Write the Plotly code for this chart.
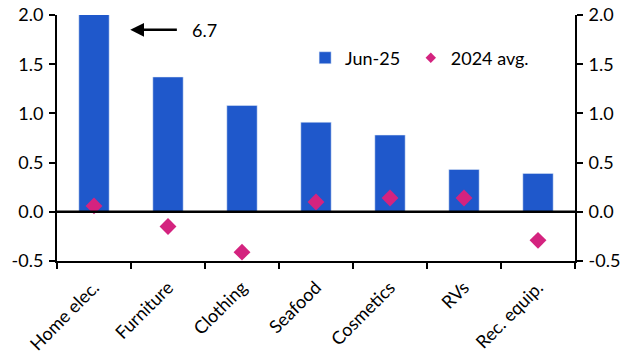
import plotly.graph_objects as go

categories = ["Home elec.", "Furniture", "Clothing", "Seafood", "Cosmetics", "RVs", "Rec. equip."]
jun25 = [6.7, 1.37, 1.08, 0.91, 0.78, 0.43, 0.39]
avg2024 = [0.06, -0.15, -0.41, 0.10, 0.14, 0.14, -0.29]
y_ticks = [-0.5, 0.0, 0.5, 1.0, 1.5, 2.0]
y_range = [-0.5, 2.0]

BLUE = "#1F58CB"
PINK = "#D4237F"
FONT = "Lato"
FS = 18

fig = go.Figure()
fig.add_trace(go.Bar(x=categories, y=jun25, name="Jun-25", marker_color=BLUE,
                     width=0.41, legend="legend"))
fig.add_trace(go.Scatter(x=categories, y=avg2024, name="2024 avg.", mode="markers",
                         showlegend=False,
                         marker=dict(symbol="diamond", size=13, color=PINK)))
# legend proxy for the diamonds (smaller symbol as in the reference legend)
fig.add_trace(go.Scatter(x=[categories[0]], y=[None], name="2024 avg.", mode="markers",
                         legend="legend2",
                         marker=dict(symbol="diamond", size=8, color=PINK)))
# dummy trace on right axis
fig.add_trace(go.Scatter(x=categories, y=[None]*len(categories), yaxis="y2",
                         showlegend=False, hoverinfo="skip"))

axis_common = dict(range=y_range, tickvals=y_ticks,
                   ticktext=[f"{v:.1f}" for v in y_ticks],
                   ticks="outside", ticklen=6, tickwidth=2, tickcolor="black",
                   showline=True, linewidth=2, linecolor="black",
                   showgrid=False, zeroline=False, automargin=False,
                   tickfont=dict(family=FONT, size=FS, color="black"))

leg_common = dict(orientation="h", y=0.825, xanchor="left", yanchor="middle",
                  bgcolor="rgba(0,0,0,0)", font=dict(family=FONT, size=FS))

fig.update_layout(
    width=633, height=359,
    margin=dict(l=57, r=58, t=15, b=98),
    plot_bgcolor="white", paper_bgcolor="white",
    font=dict(family=FONT, size=FS, color="black"),
    bargap=0.59,
    xaxis=dict(type="category", tickson="boundaries", ticks="outside", ticklen=6,
               tickwidth=2, tickcolor="black", showline=True, linewidth=2,
               linecolor="black", tickangle=-45, showgrid=False, automargin=False,
               ticklabelstandoff=7,
               tickfont=dict(family=FONT, size=FS, color="black")),
    yaxis=dict(side="left", ticklabelstandoff=2, **axis_common),
    yaxis2=dict(side="right", overlaying="y", ticklabelstandoff=2, **axis_common),
    legend=dict(x=0.479, **leg_common),
    legend2=dict(x=0.683, **leg_common),
    showlegend=True,
    shapes=[dict(type="line", xref="paper", yref="y", x0=0, x1=1, y0=0, y1=0,
                 line=dict(color="black", width=2.5))],
    annotations=[
        dict(x=0.49, y=1.85, ax=1.14, ay=1.85, xref="x", yref="y", axref="x", ayref="y",
             text="", showarrow=True, arrowhead=2, arrowsize=1.1, arrowwidth=2.5,
             arrowcolor="black"),
        dict(x=1.49, y=1.85, xref="x", yref="y", text="6.7", showarrow=False,
             font=dict(family=FONT, size=FS, color="black")),
    ],
)

fig.write_html("out.html", config={"displayModeBar": False},
               post_script="document.body.style.margin='0';document.body.style.overflow='hidden';")
